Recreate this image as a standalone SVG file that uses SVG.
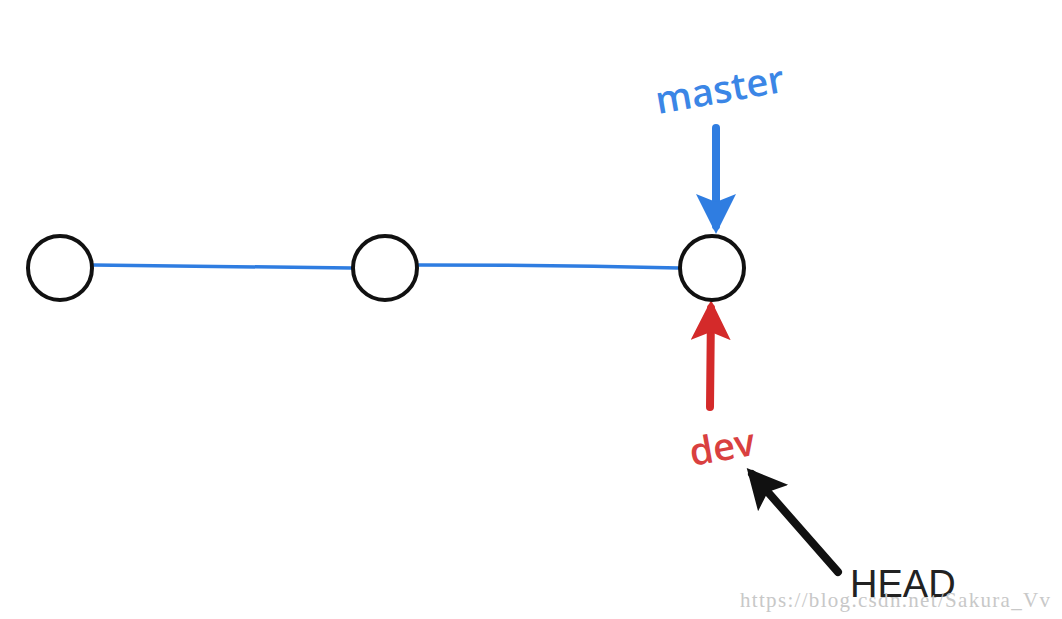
<svg xmlns="http://www.w3.org/2000/svg" width="1062" height="619" viewBox="0 0 1062 619">
<style>
.node{fill:#fff;stroke:#111;stroke-width:4}
.edge{fill:none;stroke:#2f7de1;stroke-width:3.5;stroke-linecap:round}
.lbl{font-family:"Open Sans","Noto Sans",sans-serif;font-size:38px;font-weight:600}
</style>
<defs>
<marker id="ahB" viewBox="0 0 10 10" refX="8" refY="5" markerWidth="5" markerHeight="5" orient="auto" markerUnits="strokeWidth"><path d="M0,0 L10,5 L0,10 L2,5 Z" fill="#2f7de1"/></marker>
<marker id="ahR" viewBox="0 0 10 10" refX="8" refY="5" markerWidth="5" markerHeight="5" orient="auto" markerUnits="strokeWidth"><path d="M0,0 L10,5 L0,10 L2,5 Z" fill="#d42a2a"/></marker>
<marker id="ahK" viewBox="0 0 10 10" refX="8" refY="5" markerWidth="5" markerHeight="5" orient="auto" markerUnits="strokeWidth"><path d="M0,0 L10,5 L0,10 L2,5 Z" fill="#111"/></marker>
</defs>
<rect width="1062" height="619" fill="#fff"/>
<g id="connectors">
<path class="edge" d="M93,265 Q220,266 352,268"/>
<path class="edge" d="M418,265 Q550,265 679,268"/>
<line x1="716" y1="128" x2="716" y2="226" stroke="#2f7de1" stroke-width="8" stroke-linecap="round" marker-end="url(#ahB)"/>
<line x1="710" y1="407" x2="711" y2="308" stroke="#d42a2a" stroke-width="8" stroke-linecap="round" marker-end="url(#ahR)"/>
<line x1="838" y1="572" x2="752" y2="474" stroke="#111" stroke-width="8" stroke-linecap="round" marker-end="url(#ahK)"/>
</g>
<g id="c1"><circle class="node" cx="60" cy="268" r="32"/></g>
<g id="c2"><circle class="node" cx="385" cy="268" r="32"/></g>
<g id="c3"><circle class="node" cx="712" cy="268" r="32"/></g>
<g id="master"><text class="lbl" x="658" y="114" fill="#3b86e6" transform="rotate(-10 658 114)">master</text></g>
<g id="dev"><text class="lbl" x="692" y="466" fill="#d94040" font-weight="500" transform="rotate(-10 692 466)">dev</text></g>
<g id="head"><text x="850" y="597" font-family="Liberation Sans, Arial, sans-serif" font-size="38" fill="#222">HEAD</text></g>
<text x="740" y="607" font-family="Liberation Serif, serif" font-size="21" fill="#c8c8c8" textLength="310" lengthAdjust="spacing">https://blog.csdn.net/Sakura_Vv</text>
</svg>
